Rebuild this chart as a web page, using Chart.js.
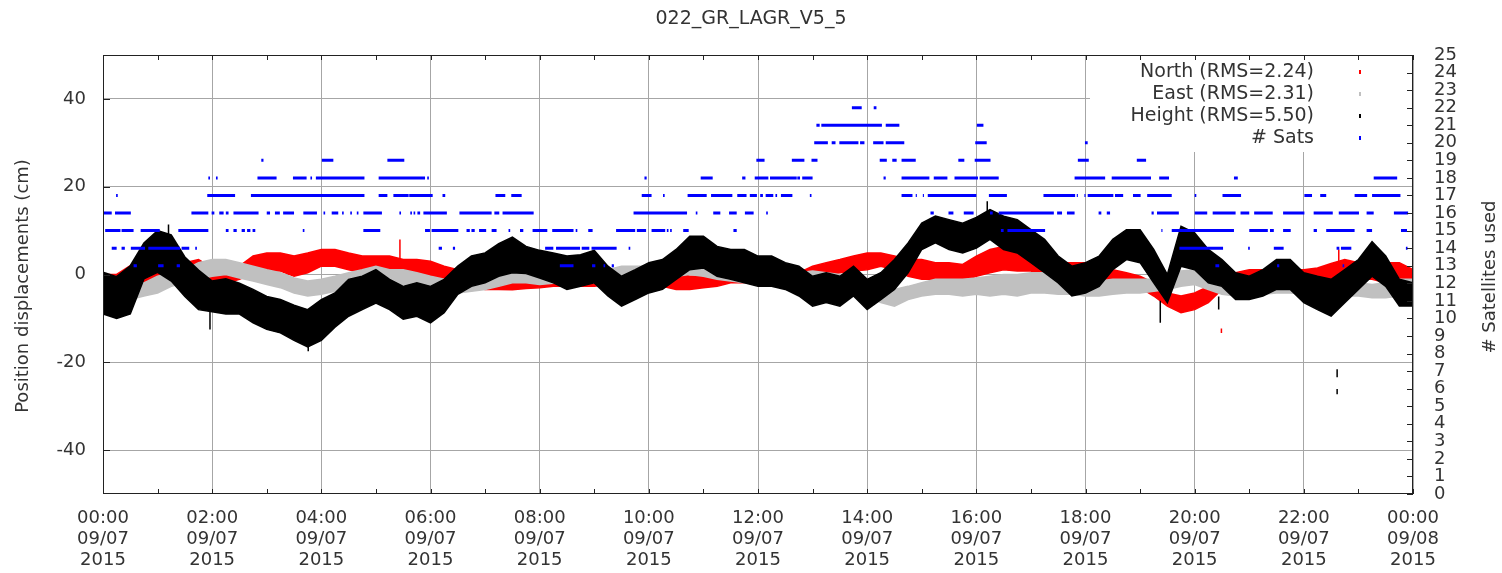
<!DOCTYPE html>
<html>
<head>
<meta charset="utf-8">
<title>022_GR_LAGR_V5_5</title>
<script src="https://cdn.jsdelivr.net/npm/chart.js@4/dist/chart.umd.min.js"></script>
<style>
  html, body { margin: 0; padding: 0; background: #ffffff; }
  #wrap { width: 1502px; height: 573px; }
</style>
</head>
<body>
<div id="wrap"><canvas id="chart" width="1502" height="573"></canvas></div>
<script>
// Epochs (hours since 00:00 09/07/2015), one every 15 minutes
const hours = [
  0, 0.25, 0.5, 0.75, 1, 1.25, 1.5, 1.75, 2, 2.25, 2.5, 2.75,
  3, 3.25, 3.5, 3.75, 4, 4.25, 4.5, 4.75, 5, 5.25, 5.5, 5.75,
  6, 6.25, 6.5, 6.75, 7, 7.25, 7.5, 7.75, 8, 8.25, 8.5, 8.75,
  9, 9.25, 9.5, 9.75, 10, 10.25, 10.5, 10.75, 11, 11.25, 11.5, 11.75,
  12, 12.25, 12.5, 12.75, 13, 13.25, 13.5, 13.75, 14, 14.25, 14.5, 14.75,
  15, 15.25, 15.5, 15.75, 16, 16.25, 16.5, 16.75, 17, 17.25, 17.5, 17.75,
  18, 18.25, 18.5, 18.75, 19, 19.25, 19.5, 19.75, 20, 20.25, 20.5, 20.75,
  21, 21.25, 21.5, 21.75, 22, 22.25, 22.5, 22.75, 23, 23.25, 23.5, 23.75, 24
];

// North displacement (cm): upper / lower edge of the scatter per epoch
const northHigh = [
  0, 0, 2, 4,   4.2, 3.5, 2.7, 3.4,   1.5, 0.4, 1.9, 4.2,   4.9, 4.9, 4.2, 4.9,
  5.7, 5.7, 4.9, 4.2,   4.2, 4.2, 3.4, 3.4,   3, 1.9, 1.1, 0,   -1.1, -1.1, -1, -0.8,
  -0.5, 0, 0.4, 0.4,   0.4, 0.8, 1.1, 1.5,   1.9, 1.1, 0.4, -0.4,   -0.4, 0.4, 1.1, 1.1,
  1.1, 1.1, 0.8, 0.4,   1.9, 2.7, 3.4, 4.2,   4.9, 4.9, 4.2, 3.4,   3.4, 2.7, 2.7, 2.3,
  4.2, 5.7, 6.4, 5.7,   4.9, 3.4, 2.7, 2.7,   2.7, 1.9, 1.1, 0.4,   -0.4, -1.9, -4.2, -4.9,
  -4.2, -2.7, -0.4, 0.4,   1.1, 1.1, 1.1, 1.1,   1.1, 1.5, 2.5, 3.4,   2.7, 2.7, 2.7, 2.7,
  1.1
];
const northLow = [
  -5, -5, -4, -2.7,   -2.5, -2, -1.1, -0.4,   -1.9, -2, -1.1, 0.4,   0.8, 0.8, -0.4, 0.4,
  1.9, 1.9, 1.1, 0.4,   0.4, 0.4, 0, 0,   -0.4, -1.1, -1.9, -2.7,   -3.4, -3.4, -3.5, -3.2,
  -3, -2.7, -2.7, -2.7,   -2.7, -2.3, -1.9, -1.9,   -1.9, -2.7, -3.4, -3.4,   -3, -2.7, -1.9, -1.9,
  -1.9, -1.9, -1.9, -1.9,   -1.1, -0.4, 0.4, 0.8,   1.1, 1.9, 1.1, -0.4,   -1.1, -1.1, -1.1, -1.5,
  -0.4, 0.4, 1.1, 0.8,   0.8, -0.4, -0.4, -1.1,   -1.1, -1.5, -1.9, -2.3,   -3, -4.9, -7.2, -8.7,
  -8, -6.4, -3.4, -2.7,   -1.9, -1.9, -1.9, -1.9,   -1.9, -1.9, -1.5, -1.1,   -1.1, -1.1, -1.9, -1.9,
  -1.9
];

// East displacement (cm)
const eastHigh = [
  0, -0.5, -1.9, -1.9,   -0.4, 0.4, 1.1, 2.7,   3.4, 3.4, 2.7, 1.9,   1.1, 0.4, -0.8, -1.5,
  -1.1, -0.4, 0.4, 1.1,   1.9, 1.1, 1.1, 0.4,   -0.4, -1.1, -1.1, -0.4,   -0.4, 0.4, 1.1, 1.1,
  0.8, 0.8, 0.8, 0.8,   0.8, 1.1, 1.9, 1.9,   1.9, 2.7, 3.4, 3.4,   2.7, 1.9, 1.9, 1.1,
  0.8, 0.4, 0.4, 0.4,   0.8, 0.4, 0, -0.4,   -1.1, -2.7, -3.4, -2.7,   -1.9, -1.1, -1.1, -1.1,
  -0.8, -0.4, 0, 0,   0.4, 0.4, -0.4, -1.1,   -1.5, -1.5, -1.1, -1.1,   -1.1, -1.1, -0.4, 0.8,
  1.1, 0, -1.1, -1.1,   -1.1, -1.1, -0.8, -1.1,   -1.1, -1.5, -1.9, -1.5,   -1.9, -2.3, -1.9, -1.1,
  -1.1
];
const eastLow = [
  -4, -4.5, -5.7, -4.9,   -4.2, -2.7, -1.9, -1.1,   -0.4, 0, -0.8, -1.5,   -2.3, -3, -4.2, -4.9,
  -4.5, -3.8, -3, -2.3,   -1.9, -1.9, -2.3, -2.7,   -3.4, -4.2, -4.2, -3.8,   -3.4, -2.7, -1.9, -1.9,
  -2.3, -2, -1.9, -1.9,   -1.9, -1.9, -1.1, -1.1,   -1.1, -0.4, -0.4, 0,   -0.4, -1.1, -1.5, -1.9,
  -2.3, -2.7, -3, -2.7,   -2.3, -2.7, -3, -3.8,   -4.9, -6.4, -7.2, -5.7,   -4.9, -4.5, -4.5, -4.9,
  -4.5, -4.9, -4.5, -4.9,   -4.2, -4.2, -4.5, -4.5,   -4.9, -4.9, -4.5, -4.2,   -4.2, -3.8, -3.4, -2.7,
  -2.3, -3.4, -4.5, -4.9,   -4.5, -4.5, -4.2, -4.2,   -4.5, -4.9, -5.3, -4.9,   -4.9, -5.3, -5.3, -4.9,
  -4.9
];

// Height displacement (cm)
const heightHigh = [
  0.5, -0.5, 2, 7.2,   10, 9, 4, 1,   -1.5, -1, -2, -3.4,   -5, -5.7, -7, -8,
  -5.7, -4.2, -1.1, -0.4,   1.1, -1.1, -2.7, -1.9,   -2.7, -1.1, 1.9, 4.2,   4.9, 7, 8.5, 6.4,
  5.5, 4.9, 4.2, 4.5,   5.5, 1.9, -0.4, 1.1,   2.7, 3.4, 5.7, 8.7,   8.7, 6.4, 5.7, 5.7,
  4.2, 4.2, 2.7, 1.9,   -0.4, 0.4, -0.4, 1.9,   -1.1, 0.4, 3.4, 7.2,   11.7, 13.3, 12.5, 11.7,
  13, 14.8, 13.3, 12.5,   10.2, 8, 4.2, 1.9,   2.7, 4.2, 8, 10.2,   10.2, 5.7, 0, 11,
  9.5, 5.7, 3.4, 0.4,   -0.4, 1.1, 3.4, 3.4,   0.4, -0.4, -1.1, 1.1,   3.4, 7.5, 4.2, -1.1,
  -1.9
];
const heightLow = [
  -9, -10, -9, -1,   0.5, -1.5, -5, -8,   -8.5, -9, -9, -11,   -12.5, -13.3, -15, -16.5,
  -15, -12, -9.5, -8,   -6.5, -8, -10.2, -9.5,   -11, -8.7, -4.5, -2.7,   -1.9, -0.4, 0.4, 0.2,
  -0.8, -1.9, -3.4, -2.7,   -1.9, -4.9, -7.2, -5.7,   -4.2, -3.4, -1.1, 1.1,   1.5, -0.4, -1.1, -1.9,
  -2.7, -2.7, -3.4, -4.9,   -7.2, -6.4, -7.2, -4.9,   -8, -5.7, -3.4, 0.4,   5.7, 7.2, 5.7, 4.9,
  6, 8, 5.7, 4.9,   2.7, 0.4, -1.9, -4.9,   -4.2, -2.7, 1.1, 3.4,   2.7, -1.9, -6.4, 1.9,
  1.1, -1.9, -2.7, -5.7,   -5.7, -4.9, -3.4, -3.4,   -6.4, -8, -9.5, -6.4,   -3.4, -0.4, -2.7, -7.2,
  -7.2
];

// Isolated excursions: [hour, from cm, to cm]
const heightSpikes = [
  [1.20, 8, 11.4], [1.96, -8, -12.5], [3.76, -15, -17.5], [16.20, 13, 16.7],
  [19.37, -6, -11], [20.44, -5, -8], [22.61, -21.6, -23.4], [22.61, -26.1, -27.3]
];
const northSpikes = [
  [5.44, 3, 8], [20.49, -12.3, -13.3], [22.64, 2, 5.7]
];

// Satellites used: [from hour, to hour] spans at each count
const sats22 = [[13.72, 13.90], [14.12, 14.17]];
const sats21 = [[13.07, 13.13], [13.16, 14.27], [14.34, 14.59], [16.01, 16.13]];
const sats20 = [[13.03, 13.28], [13.35, 13.42], [13.49, 13.84], [13.87, 13.95], [14.11, 14.30],
  [14.34, 14.68], [15.98, 16.19], [17.99, 18.04]];
const sats19 = [[2.90, 2.94], [4.01, 4.22], [5.21, 5.52], [11.97, 12.12], [12.62, 12.85],
  [12.98, 13.09], [14.23, 14.36], [14.46, 14.54], [14.63, 14.89], [15.67, 15.78],
  [15.97, 16.26], [17.86, 18.06], [18.94, 19.11]];
const sats18 = [[1.93, 1.96], [2.07, 2.10], [2.83, 3.18], [3.48, 3.73], [3.80, 3.83],
  [3.90, 4.79], [5.05, 5.90], [5.94, 5.97], [9.92, 9.96], [10.95, 11.17], [11.71, 11.77],
  [11.94, 12.19], [12.22, 12.71], [12.72, 12.77], [12.81, 13.00], [14.30, 14.34],
  [14.63, 15.14], [15.22, 15.47], [15.60, 16.03], [16.06, 16.41], [17.80, 18.36],
  [18.48, 19.20], [19.35, 19.53], [20.72, 20.79], [23.28, 23.71]];
const sats17 = [[0.24, 0.27], [1.91, 2.42], [2.71, 4.79], [5.05, 5.21], [5.32, 5.60],
  [5.61, 6.04], [6.22, 6.27], [7.19, 7.37], [7.48, 7.67], [9.87, 10.05], [10.26, 10.29],
  [10.71, 11.06], [11.14, 11.53], [11.62, 11.79], [11.85, 11.98], [12.04, 12.09],
  [12.14, 12.28], [12.32, 12.35], [12.42, 12.63], [12.95, 12.98], [14.63, 14.83],
  [14.89, 14.91], [15.02, 15.04], [15.11, 16.00], [16.23, 16.56], [17.23, 17.81],
  [17.84, 17.86], [17.98, 18.00], [18.04, 18.51], [18.54, 18.69], [18.87, 19.01],
  [19.13, 19.58], [20.00, 20.03], [20.51, 20.85], [22.01, 22.15], [22.30, 22.41],
  [22.93, 23.16], [23.25, 23.77]];
const sats16 = [[0, 0.16], [0.22, 0.51], [1.62, 1.93], [1.99, 2.04], [2.13, 2.21],
  [2.25, 2.30], [2.39, 2.85], [3.00, 3.06], [3.15, 3.24], [3.30, 3.50], [3.67, 3.92],
  [4.04, 4.07], [4.19, 4.31], [4.38, 4.41], [4.53, 4.56], [4.65, 4.68], [4.77, 5.11],
  [5.43, 5.46], [5.63, 5.66], [5.69, 5.72], [5.76, 5.81], [5.87, 6.30], [6.53, 7.12],
  [7.17, 7.26], [7.32, 7.89], [9.72, 10.70], [10.86, 10.89], [11.18, 11.31], [11.47, 11.61],
  [11.76, 11.92], [12.15, 12.18], [15.16, 15.22], [15.49, 15.58], [15.77, 15.95],
  [16.25, 16.30], [16.41, 17.42], [17.48, 17.57], [17.66, 17.80], [18.24, 18.29],
  [18.39, 18.45], [19.21, 19.25], [19.31, 19.71], [20.00, 20.23], [20.33, 20.75],
  [20.84, 21.00], [21.09, 21.43], [21.62, 22.01], [22.18, 22.53], [22.64, 23.01],
  [23.15, 23.28], [23.65, 23.91]];
const sats15 = [[0.04, 0.32], [0.34, 0.56], [0.69, 1.04], [1.38, 1.93], [2.25, 2.30],
  [2.39, 2.45], [2.54, 2.60], [2.64, 2.70], [2.74, 2.79], [3.66, 3.69], [4.77, 5.08],
  [5.90, 5.99], [6.02, 6.51], [6.66, 6.72], [6.75, 6.81], [6.89, 7.02], [7.12, 7.21],
  [7.43, 7.46], [7.64, 7.70], [7.87, 8.14], [8.23, 8.62], [8.66, 8.69], [8.89, 8.97],
  [9.40, 9.75], [9.78, 9.95], [10.05, 10.30], [10.33, 10.36], [10.39, 10.42], [10.63, 10.73],
  [11.55, 11.61], [16.45, 16.50], [16.57, 17.26], [19.39, 19.41], [19.58, 20.72],
  [21.00, 21.34], [21.38, 21.45], [21.62, 21.76], [22.18, 22.24], [22.41, 22.93],
  [23.15, 23.25], [23.78, 23.89]];
const sats14 = [[0.16, 0.25], [0.34, 0.40], [0.51, 0.77], [0.83, 1.41], [1.44, 1.58],
  [1.69, 1.72], [6.15, 6.21], [6.41, 6.45], [8.10, 8.25], [8.30, 8.74], [8.77, 8.91],
  [8.95, 9.41], [9.63, 9.66], [19.72, 20.52], [20.98, 21.01], [21.45, 21.63],
  [22.60, 22.65], [22.68, 22.87], [23.87, 23.90]];
const sats13 = [[0.56, 0.62], [1.01, 1.11], [1.35, 1.41], [8.37, 8.62], [8.96, 9.02],
  [9.17, 9.20], [9.32, 9.36], [20.38, 20.45], [21.51, 21.55], [22.71, 22.74]];

const satCounts = [22, 21, 20, 19, 18, 17, 16, 15, 14, 13];
const satSpans = [sats22, sats21, sats20, sats19, sats18, sats17, sats16, sats15, sats14, sats13];

// Axis ticks and labels
const xTickHours = [0, 2, 4, 6, 8, 10, 12, 14, 16, 18, 20, 22, 24];
const xTickLabels = [
  ['00:00', '09/07', '2015'], ['02:00', '09/07', '2015'], ['04:00', '09/07', '2015'],
  ['06:00', '09/07', '2015'], ['08:00', '09/07', '2015'], ['10:00', '09/07', '2015'],
  ['12:00', '09/07', '2015'], ['14:00', '09/07', '2015'], ['16:00', '09/07', '2015'],
  ['18:00', '09/07', '2015'], ['20:00', '09/07', '2015'], ['22:00', '09/07', '2015'],
  ['00:00', '09/08', '2015']
];
const leftTicks = [-40, -20, 0, 20, 40];
const rightTicks = [0, 1, 2, 3, 4, 5, 6, 7, 8, 9, 10, 11, 12, 13, 14, 15, 16, 17, 18, 19, 20, 21, 22, 23, 24, 25];

const legendLabels = ['North (RMS=2.24)', 'East (RMS=2.31)', 'Height (RMS=5.50)', '# Sats'];

// ---- build plotting structures ----
const FONT = "'DejaVu Sans', Verdana, sans-serif";
const TEXT = '#333333';
const GRID = '#a6a6a6';
const RED = '#ff0000', GREY = '#c0c0c0', BLACK = '#000000', BLUE = '#0000ff';

const pts = (vals) => hours.map((h, i) => ({ x: h, y: vals[i] }));
const strokes = (list) => {
  const out = [];
  list.forEach(([h, a, b]) => out.push({ x: h, y: a }, { x: h, y: b }, { x: h, y: null }));
  return out;
};
const satPoints = [];
satCounts.forEach((n, k) => {
  satSpans[k].forEach(([a, b]) => satPoints.push({ x: a, y: n }, { x: b, y: n }, { x: b, y: null }));
});

const bandCommon = { pointRadius: 0, borderWidth: 1.5, tension: 0, yAxisID: 'y' };

const datasets = [
  { ...bandCommon, label: legendLabels[0], data: pts(northHigh), borderColor: RED, backgroundColor: RED, fill: 1, order: 30 },
  { ...bandCommon, label: 'north-low', data: pts(northLow), borderColor: RED, fill: false, order: 31 },
  { ...bandCommon, label: legendLabels[1], data: pts(eastHigh), borderColor: GREY, backgroundColor: GREY, fill: 3, order: 20 },
  { ...bandCommon, label: 'east-low', data: pts(eastLow), borderColor: GREY, fill: false, order: 21 },
  { ...bandCommon, label: legendLabels[2], data: pts(heightHigh), borderColor: BLACK, backgroundColor: BLACK, fill: 5, order: 10 },
  { ...bandCommon, label: 'height-low', data: pts(heightLow), borderColor: BLACK, fill: false, order: 11 },
  { label: 'height-spikes', data: strokes(heightSpikes), borderColor: BLACK, borderWidth: 1.5, pointRadius: 0, fill: false, spanGaps: false, order: 9, yAxisID: 'y' },
  { label: 'north-spikes', data: strokes(northSpikes), borderColor: RED, borderWidth: 1.5, pointRadius: 0, fill: false, spanGaps: false, order: 29, yAxisID: 'y' },
  { label: legendLabels[3], data: satPoints, borderColor: BLUE, backgroundColor: BLUE, borderWidth: 3, borderCapStyle: 'butt', pointRadius: 0, fill: false, spanGaps: false, order: 0, yAxisID: 'y2' }
];

// Frame, inward tick marks, key box and axis titles
const framePlugin = {
  id: 'frame',
  afterDatasetsDraw(chart) {
    const { ctx, chartArea: a, scales } = chart;
    const x = scales.x, y = scales.y, y2 = scales.y2;
    ctx.save();

    // key box
    const boxLeft = 1090, boxBottom = 152;
    ctx.fillStyle = '#ffffff';
    ctx.fillRect(boxLeft, a.top, a.right - boxLeft, boxBottom - a.top);
    const keyColors = [RED, GREY, BLACK, BLUE];
    ctx.font = '19px ' + FONT;
    ctx.textAlign = 'right';
    ctx.textBaseline = 'middle';
    legendLabels.forEach((t, i) => {
      const ty = 72 + i * 22;
      ctx.fillStyle = TEXT;
      ctx.fillText(t, 1314, ty);
      ctx.fillStyle = keyColors[i];
      ctx.fillRect(1359, ty - 2, 2, 4);
    });

    // inward ticks
    ctx.strokeStyle = '#222222';
    ctx.lineWidth = 1;
    ctx.beginPath();
    for (let h = 0; h <= 24; h++) {
      const px = Math.round(x.getPixelForValue(h)) + 0.5;
      ctx.moveTo(px, a.bottom); ctx.lineTo(px, a.bottom - 5);
      ctx.moveTo(px, a.top); ctx.lineTo(px, a.top + 5);
    }
    leftTicks.forEach(v => {
      const py = Math.round(y.getPixelForValue(v)) + 0.5;
      ctx.moveTo(a.left, py); ctx.lineTo(a.left + 7, py);
    });
    rightTicks.forEach(v => {
      const py = Math.round(y2.getPixelForValue(v)) + 0.5;
      ctx.moveTo(a.right, py); ctx.lineTo(a.right - 6, py);
    });
    ctx.stroke();

    // plot border
    ctx.strokeStyle = '#222222';
    ctx.lineWidth = 1;
    ctx.strokeRect(Math.round(a.left) + 0.5, Math.round(a.top) + 0.5,
      Math.round(a.right - a.left) - 1, Math.round(a.bottom - a.top) - 1);

    // axis titles (both read bottom-to-top)
    ctx.fillStyle = TEXT;
    ctx.font = '18px ' + FONT;
    ctx.textAlign = 'center';
    ctx.textBaseline = 'middle';
    ctx.save();
    ctx.translate(23, 286);
    ctx.rotate(-Math.PI / 2);
    ctx.fillText('Position displacements (cm)', 0, 0);
    ctx.restore();
    ctx.save();
    ctx.translate(1490, 277);
    ctx.rotate(-Math.PI / 2);
    ctx.fillText('# Satellites used', 0, 0);
    ctx.restore();

    ctx.restore();
  }
};

Chart.defaults.font.family = FONT;
Chart.defaults.color = TEXT;

new Chart(document.getElementById('chart'), {
  type: 'line',
  data: { datasets },
  options: {
    responsive: false,
    animation: false,
    devicePixelRatio: 1,
    layout: { padding: 0 },
    plugins: {
      legend: { display: false },
      tooltip: { enabled: false },
      title: {
        display: true,
        text: '022_GR_LAGR_V5_5',
        color: TEXT,
        font: { size: 19, weight: 'normal', family: FONT },
        padding: { top: 8, bottom: 24.2 }
      }
    },
    scales: {
      x: {
        type: 'linear',
        position: 'bottom',
        min: 0,
        max: 24,
        afterBuildTicks: (s) => { s.ticks = xTickHours.map(v => ({ value: v })); },
        afterFit: (s) => { s.height = 79; },
        ticks: {
          autoSkip: false,
          maxRotation: 0,
          minRotation: 0,
          padding: 14,
          color: TEXT,
          font: { size: 18, family: FONT, lineHeight: 21 / 18 },
          callback: (v, i) => xTickLabels[i]
        },
        grid: { color: GRID, lineWidth: 1, drawTicks: false },
        border: { display: false }
      },
      y: {
        type: 'linear',
        position: 'left',
        min: -50,
        max: 50,
        afterBuildTicks: (s) => { s.ticks = leftTicks.map(v => ({ value: v })); },
        afterFit: (s) => { s.width = 103; },
        ticks: { padding: 17, color: TEXT, font: { size: 18, family: FONT } },
        grid: { color: GRID, lineWidth: 1, drawTicks: false },
        border: { display: false }
      },
      y2: {
        type: 'linear',
        position: 'right',
        min: 0,
        max: 25,
        afterBuildTicks: (s) => { s.ticks = rightTicks.map(v => ({ value: v })); },
        afterFit: (s) => { s.width = 89; },
        ticks: { autoSkip: false, padding: 21, color: TEXT, font: { size: 18, family: FONT } },
        grid: { display: false, drawTicks: false },
        border: { display: false }
      }
    }
  },
  plugins: [framePlugin]
});
</script>
</body>
</html>
